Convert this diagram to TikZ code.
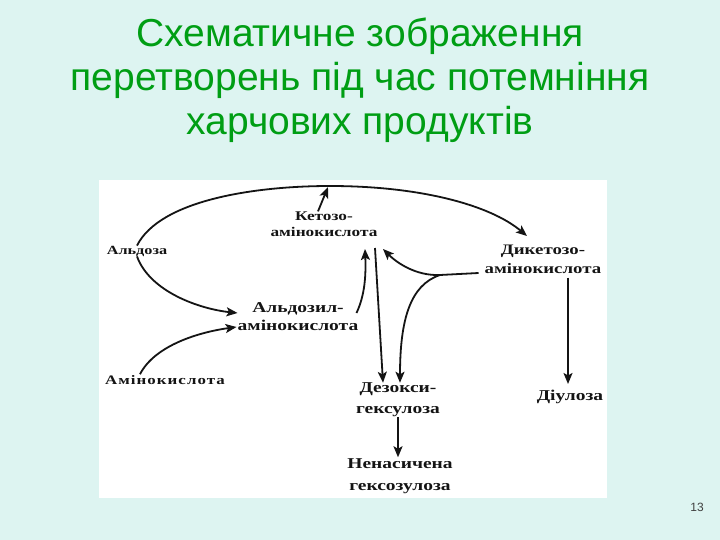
\documentclass[tikz,border=0pt]{standalone}
\usepackage{fontspec}
\setmainfont{Liberation Serif}
\newfontfamily\titlefont{Liberation Sans}
\newfontfamily\diagfont[FakeStretch=1.3]{Liberation Serif}
\usetikzlibrary{arrows.meta,calc}
\definecolor{bgcol}{RGB}{221,244,241}
\definecolor{titlegreen}{RGB}{0,158,20}
\definecolor{inkcol}{RGB}{20,20,20}
\begin{document}
\begin{tikzpicture}[x=1pt,y=-1pt,
  lbl/.style={inner sep=0pt,align=center,text=inkcol},
  conn/.style={draw=inkcol,line width=1.8pt,-{Stealth[length=11pt,width=9pt,inset=2.5pt]}},
  plainconn/.style={draw=inkcol,line width=1.8pt}]
\useasboundingbox (0,0) rectangle (720,540);
\fill[bgcol] (0,0) rectangle (720,540);
\fill[white] (99,180) rectangle (607,498);
% title
\node[titlegreen,font=\titlefont\fontsize{39}{44}\selectfont,align=center,inner sep=0pt] (title) at (360,80)
  {Схематичне зображення\\перетворень під час потемніння\\харчових продуктів};
% nodes
\node[lbl,font=\diagfont\bfseries\fontsize{12.5}{14}\selectfont] (aldoza) at (137,251) {Альдоза};
\node[lbl,font=\diagfont\bfseries\fontsize{13.3}{16}\selectfont] (keto) at (324,224) {Кетозо-\\амінокислота};
\node[lbl,font=\diagfont\bfseries\fontsize{14.5}{19}\selectfont] (diketo) at (543,259) {Дикетозо-\\амінокислота};
\node[lbl,font=\diagfont\bfseries\fontsize{15}{18}\selectfont] (aldozyl) at (298,317) {Альдозил-\\амінокислота};
\node[lbl,font=\diagfont\bfseries\fontsize{13}{14}\selectfont\addfontfeature{LetterSpace=8}] (amino) at (165,380) {Амінокислота};
\node[lbl,font=\diagfont\bfseries\fontsize{15}{21}\selectfont] (dezoksy) at (398,400) {Дезокси-\\гексулоза};
\node[lbl,font=\diagfont\bfseries\fontsize{15}{16}\selectfont] (diuloza) at (570,397) {Діулоза};
\node[lbl,font=\diagfont\bfseries\fontsize{15}{22}\selectfont] (nenas) at (400,476) {Ненасичена\\гексозулоза};
\node[inner sep=0pt,font=\titlefont\fontsize{12}{14}\selectfont,text=black!75] (pagenum) at (697,507) {13};
% connectors
\coordinate (join) at (328,187);
\coordinate (fork) at (440,275);
\draw[conn] (aldoza.north) .. controls (160,200) and (255,186) .. (330,186)
  .. controls (420,186) and (490,205) .. (527,236);
\draw[conn] ($(keto.north)+(-6,0)$) -- (join);
\draw[conn] (aldoza.south) .. controls (150,292) and (200,309) .. ($(aldozyl.west)+(0,-4)$);
\draw[conn] ($(amino.north)+(-25,-1)$) .. controls (155,345) and (200,332) .. ($(aldozyl.west)+(-1,10)$);
\draw[conn] ($(aldozyl.east)+(-2,-4)$) .. controls (365,295) and (366,275) .. (365,249);
\draw[conn] (375,248) -- ($(dezoksy.north)+(-15,0)$);
\draw[plainconn] ($(diketo.west)+(-6,14)$) -- (fork);
\draw[conn] (fork) .. controls (415,276) and (396,262) .. (383,249);
\draw[conn] (fork) .. controls (410,285) and (400,320) .. ($(dezoksy.north)+(2,0)$);
\draw[conn] ($(diketo.south)+(25,4)$) -- ($(diuloza.north)+(-2,-6)$);
\draw[conn] (dezoksy.south) -- ($(nenas.north)+(-2,-1)$);
\end{tikzpicture}
\end{document}
